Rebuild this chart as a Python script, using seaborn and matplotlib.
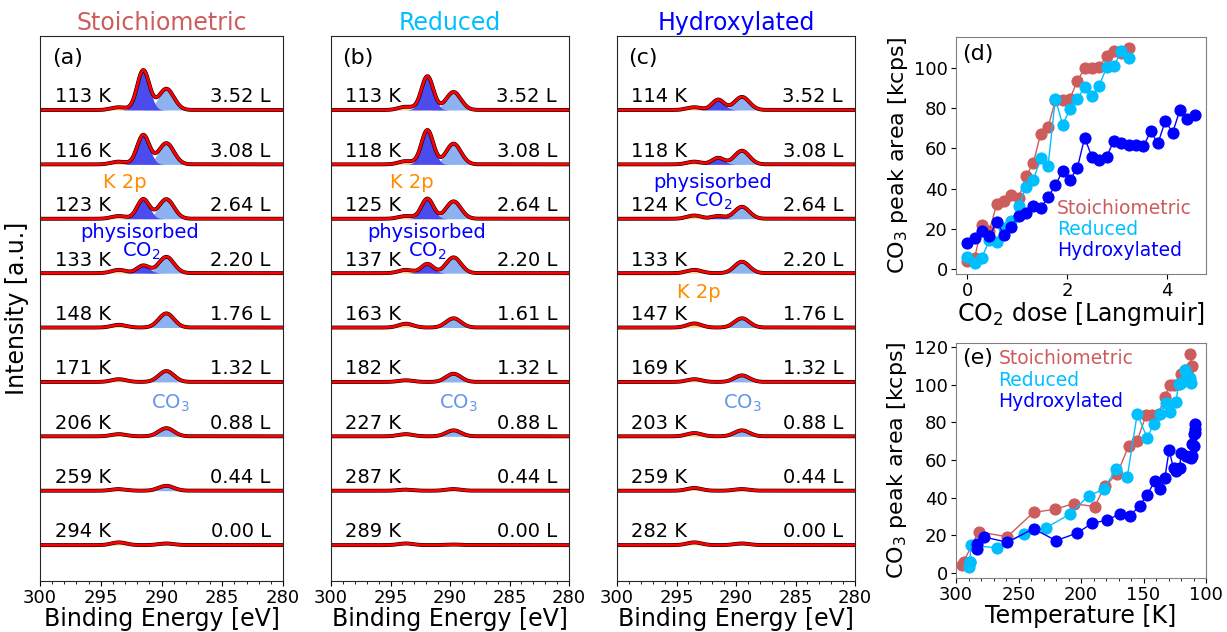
import numpy as np
import pandas as pd
import matplotlib
matplotlib.use("Agg")
import matplotlib.pyplot as plt
import seaborn as sns
from matplotlib.ticker import MultipleLocator

sns.set_style("ticks")
plt.rcParams["font.family"] = ["DejaVu Sans"]
plt.rcParams.update({
    "text.color": "black", "axes.labelcolor": "black",
    "xtick.color": "black", "ytick.color": "black",
    "xtick.major.size": 3.5, "ytick.major.size": 3.5,
    "xtick.minor.size": 2.0, "ytick.minor.size": 2.0,
    "xtick.major.pad": 2.0, "ytick.major.pad": 2.5,
})

# ---------------- spectra data (panels a-c), top spectrum first ----------------
temps_a = ["113 K", "116 K", "123 K", "133 K", "148 K", "171 K", "206 K", "259 K", "294 K"]
doses_a = ["3.52 L", "3.08 L", "2.64 L", "2.20 L", "1.76 L", "1.32 L", "0.88 L", "0.44 L", "0.00 L"]
co2_a = [0.73, 0.54, 0.36, 0.14, 0.0, 0.0, 0.0, 0.0, 0.0]
co3_a = [0.39, 0.39, 0.36, 0.30, 0.26, 0.20, 0.15, 0.09, 0.03]
k2p_a = [0.05, 0.05, 0.05, 0.06, 0.05, 0.05, 0.04, 0.03, 0.05]

temps_b = ["113 K", "118 K", "125 K", "137 K", "163 K", "182 K", "227 K", "287 K", "289 K"]
doses_b = ["3.52 L", "3.08 L", "2.64 L", "2.20 L", "1.61 L", "1.32 L", "0.88 L", "0.44 L", "0.00 L"]
co2_b = [0.62, 0.63, 0.37, 0.17, 0.0, 0.0, 0.0, 0.0, 0.0]
co3_b = [0.33, 0.38, 0.32, 0.29, 0.17, 0.15, 0.11, 0.03, 0.01]
k2p_b = [0.06, 0.06, 0.05, 0.06, 0.07, 0.03, 0.04, 0.02, 0.03]

temps_c = ["114 K", "118 K", "124 K", "133 K", "147 K", "169 K", "203 K", "259 K", "282 K"]
doses_c = ["3.52 L", "3.08 L", "2.64 L", "2.20 L", "1.76 L", "1.32 L", "0.88 L", "0.44 L", "0.00 L"]
co2_c = [0.19, 0.12, 0.05, 0.0, 0.0, 0.0, 0.0, 0.0, 0.0]
co3_c = [0.24, 0.25, 0.22, 0.21, 0.17, 0.12, 0.11, 0.03, 0.03]
k2p_c = [0.05, 0.05, 0.06, 0.06, 0.075, 0.05, 0.06, 0.05, 0.05]

# peak positions (eV) per panel: CO2, CO3, K 2p ; widths
pos_a = [291.5, 289.6, 293.5]
pos_b = [291.9, 289.7, 293.7]
pos_c = [291.5, 289.5, 293.5]
sig = [0.50, 0.62, 0.60]

# ---------------- uptake data (panels d, e) ----------------
dose_st = [0.0, 0.147, 0.293, 0.44, 0.587, 0.733, 0.88, 1.027, 1.173, 1.32, 1.467, 1.613,
           1.76, 1.907, 2.053, 2.2, 2.347, 2.493, 2.64, 2.787, 2.933, 3.08, 3.227]
area_st = [4.0, 5.8, 21.9, 19.2, 32.2, 33.8, 36.8, 35.3, 46.1, 52.7, 67.3, 70.3,
           83.7, 84.1, 84.6, 93.4, 99.7, 100.0, 100.3, 105.8, 108.0, 107.0, 109.8]
dose_re = dose_st
area_re = [6.0, 3.0, 5.8, 14.6, 13.4, 20.7, 24.0, 31.2, 41.0, 44.4, 55.0, 51.0,
           84.6, 71.6, 79.3, 84.2, 90.5, 85.7, 91.0, 100.3, 100.8, 108.0, 104.8]
dose_hy = [0.0, 0.147, 0.293, 0.44, 0.587, 0.733, 0.88, 1.027, 1.173, 1.32, 1.467, 1.613,
           1.76, 1.907, 2.053, 2.2, 2.347, 2.493, 2.64, 2.787, 2.933, 3.08, 3.227, 3.373,
           3.52, 3.667, 3.813, 3.96, 4.107, 4.253, 4.4, 4.547]
area_hy = [12.9, 15.3, 19.2, 16.3, 23.5, 17.2, 21.2, 26.5, 28.0, 31.5, 30.3, 35.8,
           41.6, 48.8, 44.4, 50.2, 65.3, 55.5, 54.2, 55.9, 63.8, 62.4, 61.5, 61.5,
           60.9, 68.3, 62.4, 73.6, 67.7, 79.0, 74.3, 76.6]

temp_st = [295, 294, 282, 259, 238, 221, 206, 189, 181, 171, 162, 155,
           148, 143, 138, 133, 129, 126, 122, 120, 117, 115, 111, 113]
area_st_e = area_st + [116.5]
temp_re = [289, 290, 289, 288, 267, 246, 228, 209, 194, 182, 172, 163,
           155, 147, 142, 137, 132, 129, 124, 122, 120, 117, 115, 113, 112]
area_re_e = area_re + [103.8, 100.8]
temp_hy = [283, 283, 278, 259, 238, 220, 203, 191, 179, 169, 161, 153,
           147, 141, 137, 133, 129.5, 126, 124, 121, 120, 116, 114, 113,
           112, 111, 111, 110, 110, 109, 109, 108.5]

C_ST, C_RE, C_HY = "indianred", "deepskyblue", "blue"
C_CO2, C_CO3, C_K = "#4B4BEE", "#8DB1F1", "#FFD49A"

fig = plt.figure(figsize=(12.27, 6.32), dpi=100)
W, H = 1227, 632


def rect(l, t, r, b):
    return [l / W, 1 - b / H, (r - l) / W, (b - t) / H]


ax_a = fig.add_axes(rect(40, 36, 283, 581))
ax_b = fig.add_axes(rect(331, 36, 569, 581))
ax_c = fig.add_axes(rect(617, 36, 855, 581))
ax_d = fig.add_axes(rect(956, 37, 1206, 274))
ax_e = fig.add_axes(rect(956, 343, 1206, 578))

E = np.linspace(280, 300, 801)


def gauss(x, a, c, s):
    return a * np.exp(-0.5 * ((x - c) / s) ** 2)


def spectra(ax, temps, doses, co2, co3, k2p, pos, letter, title, tcolor):
    n = len(temps)
    for i in range(n):
        off = n - 1 - i
        g2 = gauss(E, co2[i], pos[0], sig[0])
        g3 = gauss(E, co3[i], pos[1], sig[1])
        gk = gauss(E, k2p[i], pos[2], sig[2])
        tot = off + g2 + g3 + gk
        ax.fill_between(E, off, off + gk, color=C_K, lw=0)
        ax.fill_between(E, off, off + g3, color=C_CO3, lw=0)
        ax.fill_between(E, off, off + g2, color=C_CO2, lw=0)
        sns.lineplot(x=E, y=tot, ax=ax, color="black", lw=2.8, estimator=None, sort=False)
        sns.lineplot(x=E, y=tot, ax=ax, color="red", lw=2.0, estimator=None, sort=False)
        ax.text(298.8, off + 0.14, temps[i], fontsize=14, ha="left", va="baseline")
        ax.text(281.0, off + 0.14, doses[i], fontsize=14, ha="right", va="baseline")
    ax.set_xlim(300, 280)
    ax.set_ylim(-0.66, 9.36)
    ax.set_yticks([])
    ax.xaxis.set_major_locator(MultipleLocator(5))
    ax.xaxis.set_minor_locator(MultipleLocator(1))
    ax.tick_params(axis="x", labelsize=13)
    ax.set_xlabel("Binding Energy [eV]", fontsize=17, labelpad=0)
    ax.set_ylabel("")
    ax.text(0.048, 0.959, letter, transform=ax.transAxes, fontsize=16, va="center", ha="left")
    ax.set_title(title, color=tcolor, fontsize=17, pad=4)
    for s in ax.spines.values():
        s.set_color("0.15")


spectra(ax_a, temps_a, doses_a, co2_a, co3_a, k2p_a, pos_a, "(a)", "Stoichiometric", C_ST)
spectra(ax_b, temps_b, doses_b, co2_b, co3_b, k2p_b, pos_b, "(b)", "Reduced", C_RE)
spectra(ax_c, temps_c, doses_c, co2_c, co3_c, k2p_c, pos_c, "(c)", "Hydroxylated", C_HY)
ax_a.set_ylabel("Intensity [a.u.]", fontsize=17, labelpad=8)

# peak annotations
for ax, xk, yk, xp, yp1, yp2, xc in [
    (ax_a, 293.0, 6.66, 291.8, 5.74, 5.40, 289.3),
    (ax_b, 293.2, 6.66, 292.0, 5.74, 5.40, 289.3),
    (ax_c, 293.1, 4.65, 292.0, 6.66, 6.32, 289.5),
]:
    ax.text(xk, yk, "K 2p", color="darkorange", fontsize=14, ha="center", va="center")
    ax.text(xp, yp1, "physisorbed", color="blue", fontsize=14, ha="center", va="center")
    ax.text(xp - 0.1, yp2, "CO$_2$", color="blue", fontsize=14, ha="center", va="center")
    ax.text(xc, 2.61, "CO$_3$", color="cornflowerblue", fontsize=14, ha="center", va="center")


def uptake(ax, x, y, c):
    sns.lineplot(x=x, y=y, ax=ax, color=c, lw=1.0, marker="o", markersize=8,
                 markeredgecolor=c, markerfacecolor=c, estimator=None, sort=False)


uptake(ax_d, dose_st, area_st, C_ST)
uptake(ax_d, dose_re, area_re, C_RE)
uptake(ax_d, dose_hy, area_hy, C_HY)
ax_d.set_xticks([0, 2, 4])
ax_d.set_yticks([0, 20, 40, 60, 80, 100])
ax_d.set_xlabel("CO$_2$ dose [Langmuir]", fontsize=17, labelpad=0)
ax_d.set_ylabel("CO$_3$ peak area [kcps]", fontsize=16, labelpad=3)
ax_d.text(0.025, 0.927, "(d)", transform=ax_d.transAxes, fontsize=16, va="center")
for t, yy, c in [("Stoichiometric", 0.277, C_ST), ("Reduced", 0.186, C_RE), ("Hydroxylated", 0.098, C_HY)]:
    ax_d.text(0.403, yy, t, color=c, fontsize=13.5, transform=ax_d.transAxes, va="center")

uptake(ax_e, temp_st, area_st_e, C_ST)
uptake(ax_e, temp_re, area_re_e, C_RE)
uptake(ax_e, temp_hy, area_hy, C_HY)
ax_e.set_xlim(300, 100)
ax_e.xaxis.set_major_locator(MultipleLocator(50))
ax_e.xaxis.set_minor_locator(MultipleLocator(10))
ax_e.set_yticks([0, 20, 40, 60, 80, 100, 120])
ax_e.set_xlabel("Temperature [K]", fontsize=17, labelpad=0)
ax_e.set_ylabel("CO$_3$ peak area [kcps]", fontsize=16, labelpad=3)
ax_e.text(0.025, 0.935, "(e)", transform=ax_e.transAxes, fontsize=16, va="center")
for t, yy, c in [("Stoichiometric", 0.935, C_ST), ("Reduced", 0.84, C_RE), ("Hydroxylated", 0.75, C_HY)]:
    ax_e.text(0.169, yy, t, color=c, fontsize=13.5, transform=ax_e.transAxes, va="center")

for ax in (ax_d, ax_e):
    ax.tick_params(labelsize=13)
    for s in ax.spines.values():
        s.set_color("0.5")

fig.savefig("out.png", dpi=100)
